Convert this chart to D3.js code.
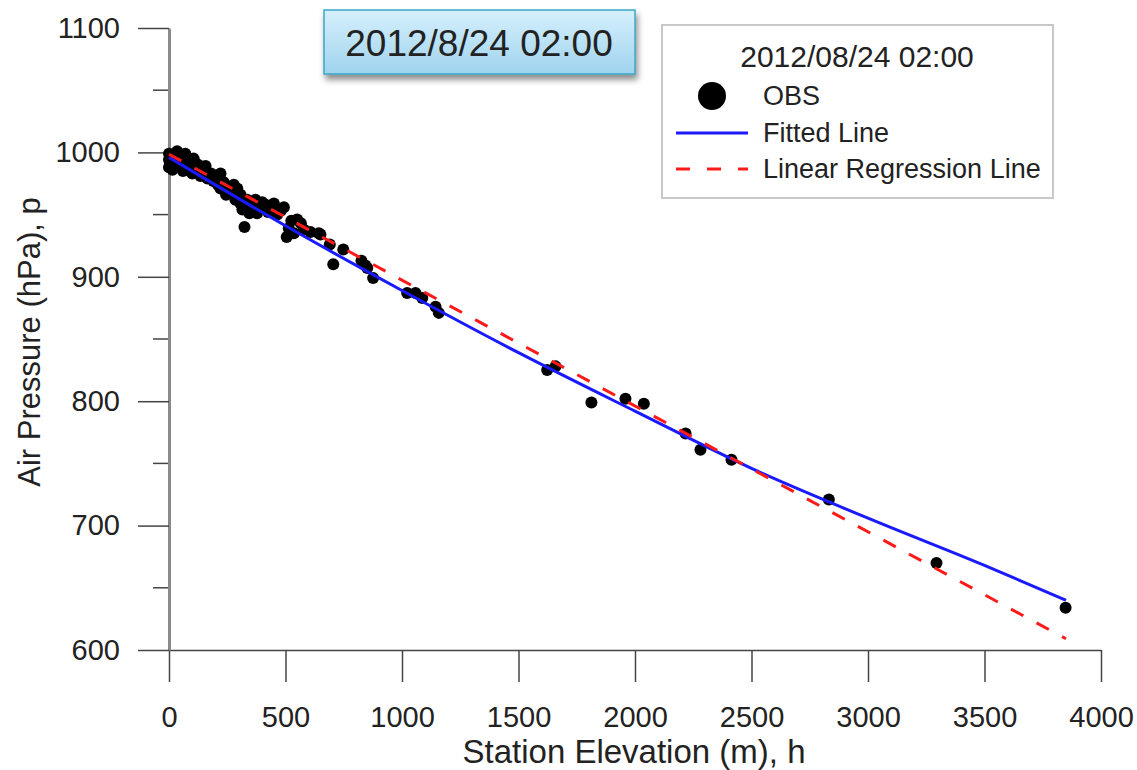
<!DOCTYPE html>
<html>
<head>
<meta charset="utf-8">
<script src="https://cdn.jsdelivr.net/npm/d3@7"></script>
<style>
  body { margin: 0; background: #fff; }
  svg text { font-family: "Liberation Sans", Arial, Helvetica, sans-serif; fill: #222; }
</style>
</head>
<body>
<svg id="chart" width="1137" height="770"></svg>
<script>
// observed stations: elevation (m) and pressure (hPa)
var obsH = [0, 0, 0, 5, 10, 15, 20, 25, 35, 45,
            55, 60, 70, 80, 90, 100, 106, 115, 125, 135,
            145, 157, 165, 180, 190, 200, 210, 221, 221, 235,
            245, 255, 265, 278, 285, 293, 300, 307, 307, 315,
            324, 335, 345, 355, 371, 378, 390, 400, 414, 425,
            440, 450, 465, 480, 493, 505, 514, 525, 536, 550,
            566, 578, 607, 643, 650, 690, 705, 748, 826, 843,
            851, 876, 1022, 1058, 1087, 1144, 1158, 1623, 1659, 1813,
            1959, 2038, 2217, 2281, 2414, 2832, 3294, 3848];
var obsP = [999, 994, 988, 991, 996, 986, 993, 998, 1001, 990,
            996, 985, 999, 988, 993, 983, 995, 987, 990, 981,
            985, 989, 979, 983, 977, 980, 974, 983, 971, 976,
            966, 972, 968, 974, 962, 971, 964, 959, 966, 954,
            940, 962, 951, 958, 962, 951, 957, 960, 958, 952,
            955, 959, 950, 953, 956, 932, 939, 945, 935, 946,
            943, 938, 936, 935, 934, 926, 910, 922, 913, 909,
            907, 899, 887, 887, 883, 876, 871, 825, 828, 799,
            802, 798, 774, 761, 753, 721, 670, 634];

// fitted line
var fitH = [0, 500, 1000, 1500, 2000, 2500, 3000, 3500, 3850];
var fitP = [996, 941, 889, 839, 792, 746, 706, 668, 640];

// linear regression line end points
var regH = [0, 3850];
var regP = [998.5, 609];

var xTicks = [0, 500, 1000, 1500, 2000, 2500, 3000, 3500, 4000];
var yTicks = [600, 700, 800, 900, 1000, 1100];
var yMinorTicks = [650, 750, 850, 950, 1050];

var titleText = "2012/8/24 02:00";
var legendTitle = "2012/08/24 02:00";
var legendNames = ["OBS", "Fitted Line", "Linear Regression Line"];

var svg = d3.select("#chart");

var x = d3.scaleLinear().domain([0, 4000]).range([169, 1101]);
var y = d3.scaleLinear().domain([600, 1100]).range([650, 28]);

// minor y ticks
svg.append("g")
    .selectAll("line")
    .data(yMinorTicks)
    .enter().append("line")
    .attr("x1", 153).attr("x2", 169)
    .attr("y1", function(d) { return y(d); })
    .attr("y2", function(d) { return y(d); })
    .attr("stroke", "#444").attr("stroke-width", 1.5);

// x axis
var xAxis = svg.append("g")
    .attr("transform", "translate(0," + y(600) + ")")
    .call(d3.axisBottom(x).tickValues(xTicks).tickFormat(d3.format("d"))
        .tickSize(32).tickSizeOuter(0).tickPadding(24));
xAxis.select(".domain").attr("stroke", "#444").attr("stroke-width", 1.5);
xAxis.selectAll(".tick line").attr("stroke", "#444").attr("stroke-width", 1.5);
xAxis.selectAll("text").style("font-size", "29px").attr("fill", "#222");

// y axis
var yAxis = svg.append("g")
    .attr("transform", "translate(" + x(0) + ",0)")
    .call(d3.axisLeft(y).tickValues(yTicks).tickFormat(d3.format("d"))
        .tickSize(31).tickSizeOuter(0).tickPadding(18));
yAxis.select(".domain").attr("stroke", "#8a8a8a").attr("stroke-width", 3);
yAxis.selectAll(".tick line").attr("stroke", "#444").attr("stroke-width", 1.5);
yAxis.selectAll("text").style("font-size", "29px").attr("fill", "#222");

// axis titles
svg.append("text")
    .attr("x", 634).attr("y", 763)
    .attr("text-anchor", "middle")
    .style("font-size", "33px")
    .text("Station Elevation (m), h");

svg.append("text")
    .attr("transform", "translate(40,342) rotate(-90)")
    .attr("text-anchor", "middle")
    .style("font-size", "31px")
    .text("Air Pressure (hPa), p");

// points
var obs = obsH.map(function(h, i) { return [h, obsP[i]]; });
svg.append("g")
    .selectAll("circle")
    .data(obs)
    .enter().append("circle")
    .attr("cx", function(d) { return x(d[0]); })
    .attr("cy", function(d) { return y(d[1]); })
    .attr("r", 6)
    .attr("fill", "#000");

var line = d3.line()
    .x(function(d) { return x(d[0]); })
    .y(function(d) { return y(d[1]); });

var reg = regH.map(function(h, i) { return [h, regP[i]]; });
var fit = fitH.map(function(h, i) { return [h, fitP[i]]; });

svg.append("path")
    .datum(fit)
    .attr("d", line.curve(d3.curveMonotoneX))
    .attr("fill", "none")
    .attr("stroke", "#1a1aff")
    .attr("stroke-width", 3);

svg.append("path")
    .datum(reg)
    .attr("d", d3.line().x(function(d) { return x(d[0]); }).y(function(d) { return y(d[1]); }))
    .attr("fill", "none")
    .attr("stroke", "#ff1a1a")
    .attr("stroke-width", 3)
    .attr("stroke-dasharray", "14,15");

// title box with gradient and shadow
var defs = svg.append("defs");
var grad = defs.append("linearGradient").attr("id", "tb").attr("x1", 0).attr("y1", 0).attr("x2", 0).attr("y2", 1);
grad.append("stop").attr("offset", "0%").attr("stop-color", "#d6f0fc");
grad.append("stop").attr("offset", "100%").attr("stop-color", "#9fd3ee");
var shadow = defs.append("filter").attr("id", "sh").attr("x", "-10%").attr("y", "-20%").attr("width", "130%").attr("height", "160%");
shadow.append("feDropShadow").attr("dx", 2).attr("dy", 5).attr("stdDeviation", 3)
    .attr("flood-color", "#000").attr("flood-opacity", 0.45);

svg.append("rect")
    .attr("x", 324).attr("y", 10).attr("width", 311).attr("height", 64)
    .attr("fill", "url(#tb)")
    .attr("stroke", "#3aa7c6").attr("stroke-width", 1.5)
    .attr("filter", "url(#sh)");
svg.append("text")
    .attr("x", 479).attr("y", 56)
    .attr("text-anchor", "middle")
    .style("font-size", "37px")
    .attr("fill", "#111")
    .text(titleText);

// legend
var lg = svg.append("g");
lg.append("rect")
    .attr("x", 662).attr("y", 25).attr("width", 391).attr("height", 173)
    .attr("fill", "#fff").attr("stroke", "#c8c8c8").attr("stroke-width", 2);
lg.append("text")
    .attr("x", 857).attr("y", 67)
    .attr("text-anchor", "middle")
    .style("font-size", "30px")
    .text(legendTitle);
lg.append("circle").attr("cx", 712).attr("cy", 96).attr("r", 14).attr("fill", "#000");
lg.append("line").attr("x1", 676).attr("x2", 748).attr("y1", 133).attr("y2", 133)
    .attr("stroke", "#1a1aff").attr("stroke-width", 3);
lg.append("line").attr("x1", 676).attr("x2", 748).attr("y1", 169).attr("y2", 169)
    .attr("stroke", "#ff1a1a").attr("stroke-width", 3).attr("stroke-dasharray", "14,17");
var legY = [105, 142, 178];
legendNames.forEach(function(n, i) {
    lg.append("text")
        .attr("x", 763).attr("y", legY[i])
        .style("font-size", "27px")
        .text(n);
});
</script>
</body>
</html>
